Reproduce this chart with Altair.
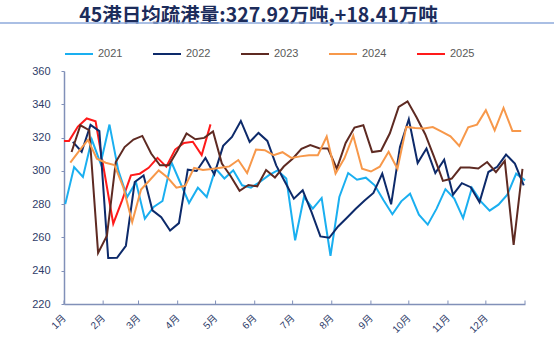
import altair as alt
import pandas as pd

title_text = "45港日均疏港量:327.92万吨,+18.41万吨"
years = ["2021", "2022", "2023", "2024", "2025"]
colors = ["#1aaff0", "#0d2a6a", "#5e2a22", "#f7984a", "#ff1a1a"]
# day of year of each series' first weekly reading
start_days = [1, 7, 6, 5, 4]

v2021 = [280, 302.3, 296.3, 318.8, 304.4, 327.8, 300.3, 284.3, 293.3, 271.3, 278.3, 281.9,
         305.3, 293, 280.7, 289.9, 284.3, 301.4, 295.4, 300.3, 291.3, 289.9, 293.3, 297.3,
         300.3, 295.4, 258.3, 284.3, 277.3, 283.7, 249.0, 284.3, 298.7, 294.7, 295.9, 291.3,
         282.3, 273.9, 281.7, 286.3, 273.7, 267.7, 277.3, 289.0, 283.3, 271.6, 289.8, 281.7,
         276.1, 279.7, 285.7, 298.3, 294.3]
v2022 = [317.4, 311.5, 327.6, 323.9, 247.6, 247.8, 255.0, 293.3, 297.3, 276.3, 272.2, 264.2,
         268.6, 300.7, 299.9, 307.7, 297.9, 315.0, 320.4, 330.0, 317.4, 322.8, 318.0, 303.3,
         293.3, 283.3, 288.3, 275.2, 260.6, 259.8, 266.6, 271.8, 277.2, 282.2, 286.7, 298.3,
         279.9, 314.4, 331.0, 304.7, 313.4, 298.7, 306.7, 285.7, 292.6, 290.2, 281.2, 299.3,
         302.4, 309.8, 304.4, 291.3]
v2023 = [311.3, 327.4, 324.4, 250.7, 261.0, 305.3, 314.3, 318.8, 321.0, 310.4, 303.3, 303.3,
         312.4, 322.5, 319.0, 319.8, 323.7, 304.4, 296.8, 288.0, 291.5, 290.7, 300.5, 296.0,
         302.6, 307.3, 313.2, 315.5, 313.6, 313.4, 301.3, 316.8, 326.0, 327.4, 311.3, 312.1,
         322.6, 338.4, 341.8, 332.4, 322.0, 308.4, 294.0, 295.4, 302.0, 302.0, 301.4, 305.3,
         299.2, 306.0, 255.5, 301.2]
v2024 = [305.0, 312.0, 318.6, 307.3, 304.9, 303.5, 290.0, 269.2, 288.8, 294.5, 300.3, 296.0,
         289.9, 291.0, 301.8, 300.5, 301.1, 301.9, 302.7, 306.5, 298.7, 312.8, 312.4, 309.4,
         311.2, 307.8, 308.7, 309.4, 309.4, 320.6, 298.3, 307.5, 321.1, 301.3, 299.6, 302.5,
         311.5, 301.3, 326.4, 325.8, 325.4, 326.3, 323.6, 320.7, 315.0, 326.1, 327.8, 336.5,
         324.3, 337.8, 324.0, 324.0]
v2025 = [318.0, 326.6, 331.5, 329.8, 299.0, 268.3, 282.3, 297.3, 298.3, 301.8, 307.8,
         302.5, 312.8, 316.8, 317.5, 309.51, 327.92]
# 2025 also has an opening reading on 1 January
v2025_open = 318.0

month_days = [0, 31, 59, 90, 120, 151, 181, 212, 243, 273, 304, 334, 365]
y_ticks = [220, 240, 260, 280, 300, 320, 340, 360]

series = [v2021, v2022, v2023, v2024, v2025]
rows = [{"year": "2025", "day": 0, "value": v2025_open}]
for yr, s, vals in zip(years, start_days, series):
    for i, v in enumerate(vals):
        rows.append({"year": yr, "day": s + 7 * i, "value": v})
df = pd.DataFrame(rows)

W, H = 461, 233
PAD_L, PAD_T = 64, 71
axis_color = "#8190b8"
label_color = "#2f3d6a"
lat_font = "Liberation Sans, Noto Sans CJK SC"

label_expr = ("datum.value >= 365 ? '' : (indexof(["
              + ",".join(str(d) for d in month_days[:-1])
              + "], datum.value) + 1) + '月'")

x_scale = alt.Scale(domain=[0, 365], nice=False, zero=False)
y_scale = alt.Scale(domain=[220, 360], nice=False, zero=False)

x_axis = alt.Axis(values=month_days, labelExpr=label_expr, title=None, grid=False,
                  ticks=False, domainColor=axis_color, domainWidth=1.5,
                  labelAngle=315, labelAlign="right", labelBaseline="middle",
                  labelPadding=12, labelFontSize=10, labelColor=label_color,
                  labelFont=lat_font, labelOverlap=False)
y_axis = alt.Axis(values=y_ticks, title=None, grid=False, tickSize=3,
                  tickColor=axis_color, domainColor=axis_color, domainWidth=1.5,
                  labelPadding=11, labelFontSize=11, labelColor=label_color,
                  labelFont=lat_font)

lines = alt.Chart(df).mark_line(strokeWidth=2).encode(
    x=alt.X("day:Q", scale=x_scale, axis=x_axis),
    y=alt.Y("value:Q", scale=y_scale, axis=y_axis),
    color=alt.Color("year:N", scale=alt.Scale(domain=years, range=colors),
                    legend=alt.Legend(orient="none", legendX=0, legendY=-32,
                                      direction="horizontal", title=None,
                                      symbolType="stroke", symbolSize=784,
                                      symbolStrokeWidth=2, labelFontSize=11,
                                      labelColor="#595959", labelFont=lat_font,
                                      columnPadding=26, labelOffset=4)),
)

tick_df = pd.DataFrame({"day": month_days})
ticks = alt.Chart(tick_df).mark_rule(color=axis_color, strokeWidth=1).encode(
    x=alt.X("day:Q", scale=x_scale, axis=x_axis),
    y=alt.value(H - 3.5), y2=alt.value(H),
)

title_df = pd.DataFrame({"t": [title_text]})
title = alt.Chart(title_df).mark_text(
    font="Noto Sans CJK SC", fontSize=19.5, fontWeight="bold", color="#1c2c5b",
    align="center", baseline="middle"
).encode(text="t:N", x=alt.value(258.5 - PAD_L), y=alt.value(16 - PAD_T))

# thin separator under the title, spanning the whole picture (in the chart's scale units)
px_per_day = W / 365
px_per_unit = H / 140
sep_df = pd.DataFrame({
    "day": [-PAD_L / px_per_day, (554 - PAD_L) / px_per_day],
    "value": [360 + (PAD_T - 23) / px_per_unit] * 2,
})
underline = alt.Chart(sep_df).mark_line(color="#8eaadb", strokeWidth=1.5).encode(
    x=alt.X("day:Q", scale=x_scale, axis=x_axis),
    y=alt.Y("value:Q", scale=y_scale, axis=y_axis),
)

chart = alt.layer(lines, ticks, title, underline).properties(
    width=W, height=H,
    autosize=alt.AutoSizeParams(type="none"),
    padding={"left": PAD_L, "top": PAD_T, "right": 554 - PAD_L - W, "bottom": 353 - PAD_T - H},
).configure_view(stroke=None)

chart.save("out.html", embed_options={"renderer": "svg", "actions": False})
